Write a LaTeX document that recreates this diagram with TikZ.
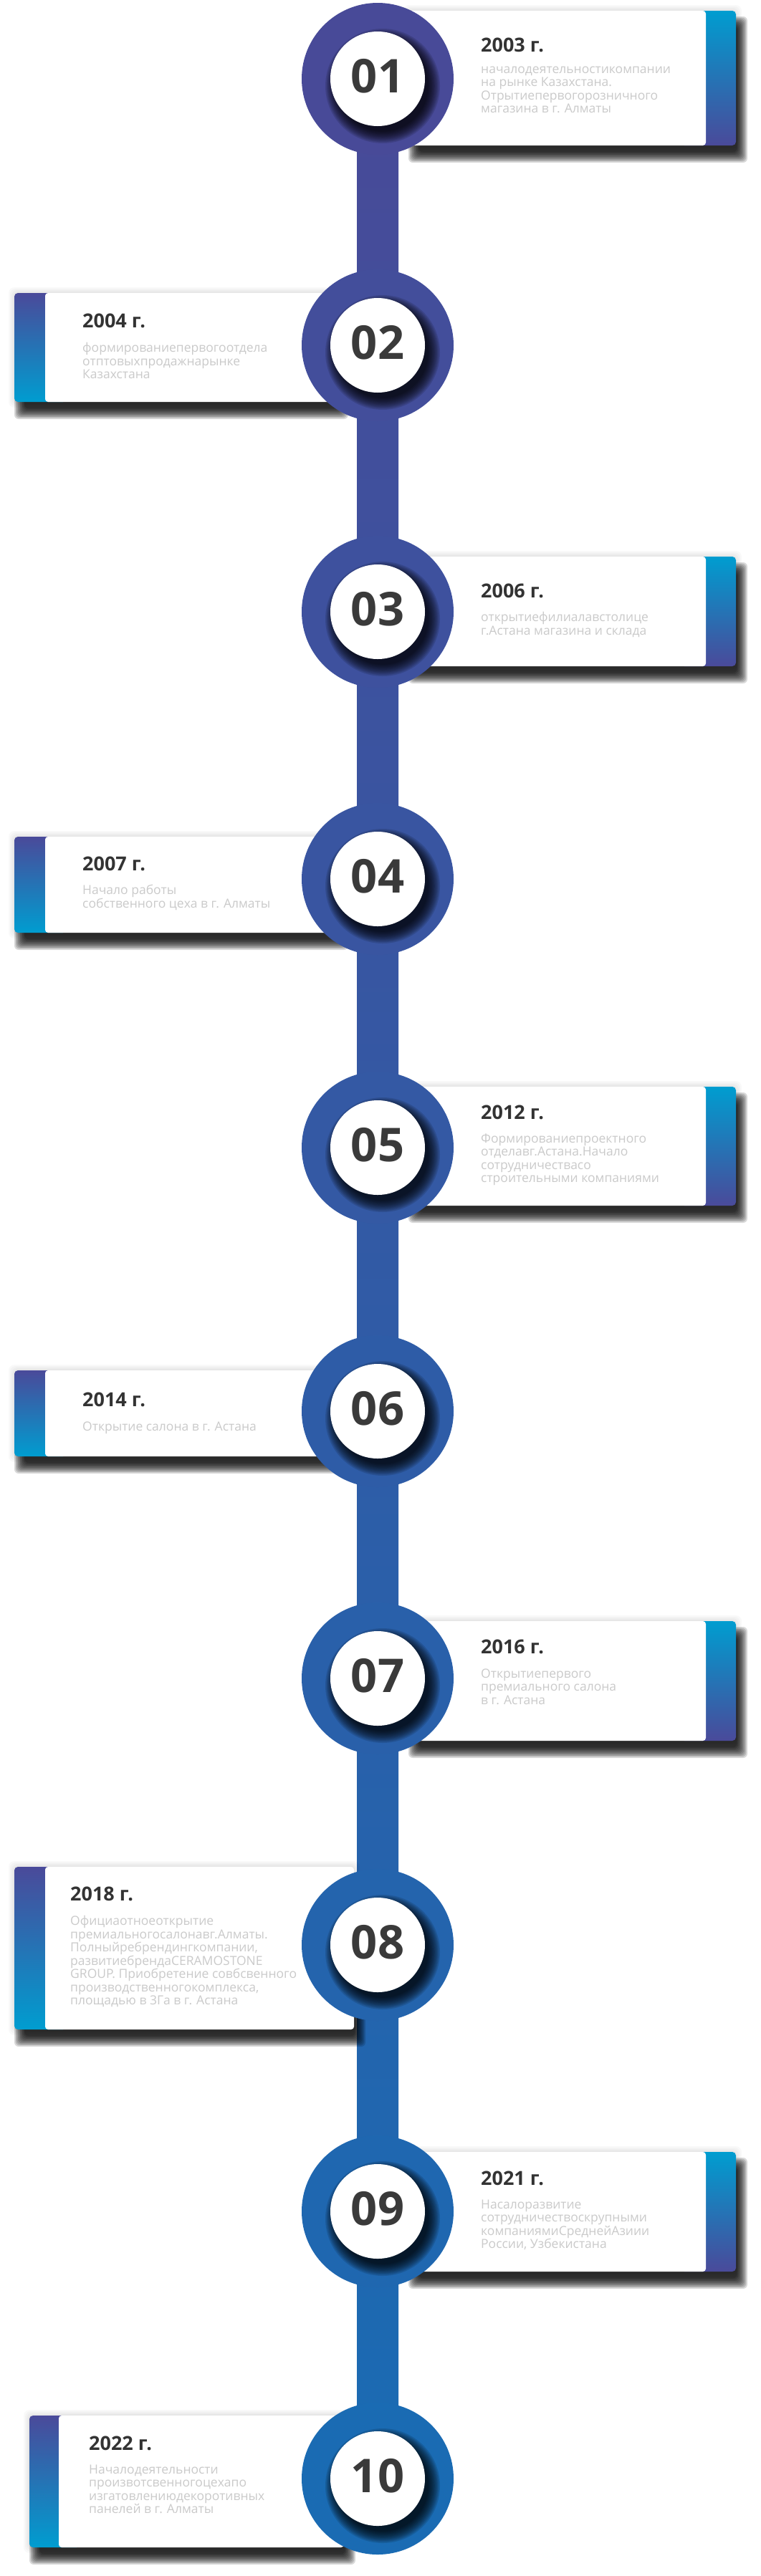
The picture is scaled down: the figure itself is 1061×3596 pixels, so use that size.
\documentclass[tikz,border=0pt]{standalone}
\usepackage{fontspec}
\setmainfont{Open Sans}
\definecolor{bartop}{HTML}{484A98}
\definecolor{barbot}{HTML}{1A6BB3}
\definecolor{cyanx}{HTML}{009DD0}
\definecolor{purplex}{HTML}{4A4A9A}
\definecolor{midx}{HTML}{2369B0}
\definecolor{numc}{HTML}{3A3A3A}
\definecolor{yearc}{HTML}{333333}
\definecolor{bodyc}{HTML}{CACACA}
\tikzset{
  yearlabel/.style={anchor=base west, inner sep=0pt, font=\fontsize{27}{32}\selectfont\bfseries, text=yearc},
  bodylabel/.style={anchor=north west, inner sep=0pt, align=left, font=\fontsize{17.5}{18.5}\selectfont, text=bodyc},
  numlabel/.style={inner sep=0pt, font=\fontsize{65}{70}\selectfont\bfseries, text=numc},
  ringnode/.style={circle, minimum size=212pt, inner sep=0pt},
  discnode/.style={circle, fill=white, minimum size=132pt, inner sep=0pt},
}
\newcommand\tlCardShadow[4]{%
  \foreach \k in {0,...,9}{%
    \pgfmathsetmacro\e{8-1.6*\k}%
    \fill[black,opacity=0.15,rounded corners=6pt] ({#1+8-\e},{#2+16-\e}) rectangle ({#3+8+\e},{#4+16+\e});
  }%
  \foreach \k in {2,4,6,8}{%
    \fill[black,opacity=0.025,rounded corners=8pt] ({#1-\k},{#2-\k}) rectangle ({#3+\k},{#4+\k});
  }}
\newcommand\tlRightCard[2]{%
  \tlCardShadow{570}{#1}{1027}{#2}
  \shade[top color=cyanx, middle color=midx, bottom color=purplex, rounded corners=5pt] (950,#1) rectangle (1027,#2);
  \fill[white, rounded corners=4pt] (570,#1) rectangle (985,#2);}
\newcommand\tlLeftCard[5]{%
  \tlCardShadow{#1}{#4}{#3}{#5}
  \shade[top color=purplex, middle color=midx, bottom color=cyanx, rounded corners=5pt] (#1,#4) rectangle ({#2+30},#5);
  \fill[white, rounded corners=4pt] (#2,#4) rectangle (#3,#5);}
\newcommand\tlDiscShadow[1]{%
  \foreach \k in {0,...,9}{%
    \pgfmathsetmacro\rr{80-1.8*\k}%
    \fill[black,opacity=0.13] (534,{#1+10}) circle (\rr pt);
  }}
\newcommand\tlStation[4]{%
  \node[ringnode, fill=barbot!#4!bartop] (ring#1) at (c#1) {};
  \tlDiscShadow{#2}
  \node[discnode] (disc#1) at (c#1) {};
  \node[numlabel] (num#1) at ([yshift=4pt]c#1) {#3};}
\begin{document}
\begin{tikzpicture}[x=1pt,y=-1pt]
\useasboundingbox (0,0) rectangle (1061,3596);
\fill[white] (0,0) rectangle (1061,3596);
\coordinate (c01) at (527,110);
\coordinate (c02) at (527,482);
\coordinate (c03) at (527,854);
\coordinate (c04) at (527,1227);
\coordinate (c05) at (527,1602);
\coordinate (c06) at (527,1970);
\coordinate (c07) at (527,2343);
\coordinate (c08) at (527,2715);
\coordinate (c09) at (527,3087);
\coordinate (c10) at (527,3460);
% central bar
\shade[top color=bartop,bottom color=barbot] ([xshift=-29pt]c01) rectangle ([xshift=29pt]c10);
% cards
\tlRightCard{15}{203}
\tlLeftCard{20}{63}{470}{409}{561}
\tlRightCard{777}{930}
\tlLeftCard{20}{63}{470}{1168}{1302}
\tlRightCard{1517}{1683}
\tlLeftCard{20}{63}{470}{1913}{2033}
\tlRightCard{2263}{2430}
\tlLeftCard{20}{63}{494}{2606}{2833}
\tlRightCard{3004}{3171}
\tlLeftCard{41}{82}{480}{3372}{3556}
% stations
\tlStation{01}{110}{01}{0}
\tlStation{02}{482}{02}{11}
\tlStation{03}{854}{03}{22}
\tlStation{04}{1227}{04}{33}
\tlStation{05}{1602}{05}{44}
\tlStation{06}{1970}{06}{56}
\tlStation{07}{2343}{07}{67}
\tlStation{08}{2715}{08}{78}
\tlStation{09}{3087}{09}{89}
\tlStation{10}{3460}{10}{100}
% texts
\node[yearlabel] (y01) at (671,72) {2003 г.};
\node[bodylabel] (t01) at (671,89) {\rule{0pt}{13pt}началодеятельностикомпании\\на рынке Казахстана.\\Отрытиепервогорозничного\\магазина в г. Алматы};
\node[yearlabel] (y02) at (115,457) {2004 г.};
\node[bodylabel] (t02) at (115,478) {\rule{0pt}{13pt}формированиепервогоотдела\\отптовыхпродажнарынке\\Казахстана};
\node[yearlabel] (y03) at (671,834) {2006 г.};
\node[bodylabel] (t03) at (671,854) {\rule{0pt}{13pt}открытиефилиалавстолице\\г.Астана магазина и склада};
\node[yearlabel] (y04) at (115,1215) {2007 г.};
\node[bodylabel] (t04) at (115,1235) {\rule{0pt}{13pt}Начало работы\\собственного цеха в г. Алматы};
\node[yearlabel] (y05) at (671,1562) {2012 г.};
\node[bodylabel] (t05) at (671,1582) {\rule{0pt}{13pt}Формированиепроектного\\отделавг.Астана.Начало\\сотрудничествасо\\строительными компаниями};
\node[yearlabel] (y06) at (115,1963) {2014 г.};
\node[bodylabel] (t06) at (115,1984) {\rule{0pt}{13pt}Открытие салона в г. Астана};
\node[yearlabel] (y07) at (671,2308) {2016 г.};
\node[bodylabel] (t07) at (671,2329) {\rule{0pt}{13pt}Открытиепервого\\премиального салона\\в г. Астана};
\node[yearlabel] (y08) at (98,2653) {2018 г.};
\node[bodylabel] (t08) at (98,2674) {\rule{0pt}{13pt}Официаотноеоткрытие\\премиальногосалонавг.Алматы.\\Полныйребрендингкомпании,\\развитиебрендаCERAMOSTONE\\GROUP. Приобретение совбсвенного\\производственногокомплекса,\\площадью в 3Га в г. Астана};
\node[yearlabel] (y09) at (671,3050) {2021 г.};
\node[bodylabel] (t09) at (671,3070) {\rule{0pt}{13pt}Насалоразвитие\\сотрудничествоскрупными\\компаниямиСреднейАзиии\\России, Узбекистана};
\node[yearlabel] (y10) at (124,3420) {2022 г.};
\node[bodylabel] (t10) at (124,3440) {\rule{0pt}{13pt}Началодеятельности\\произвотсвенногоцехапо\\изгатовлениюдекоротивных\\панелей в г. Алматы};
\end{tikzpicture}
\end{document}
